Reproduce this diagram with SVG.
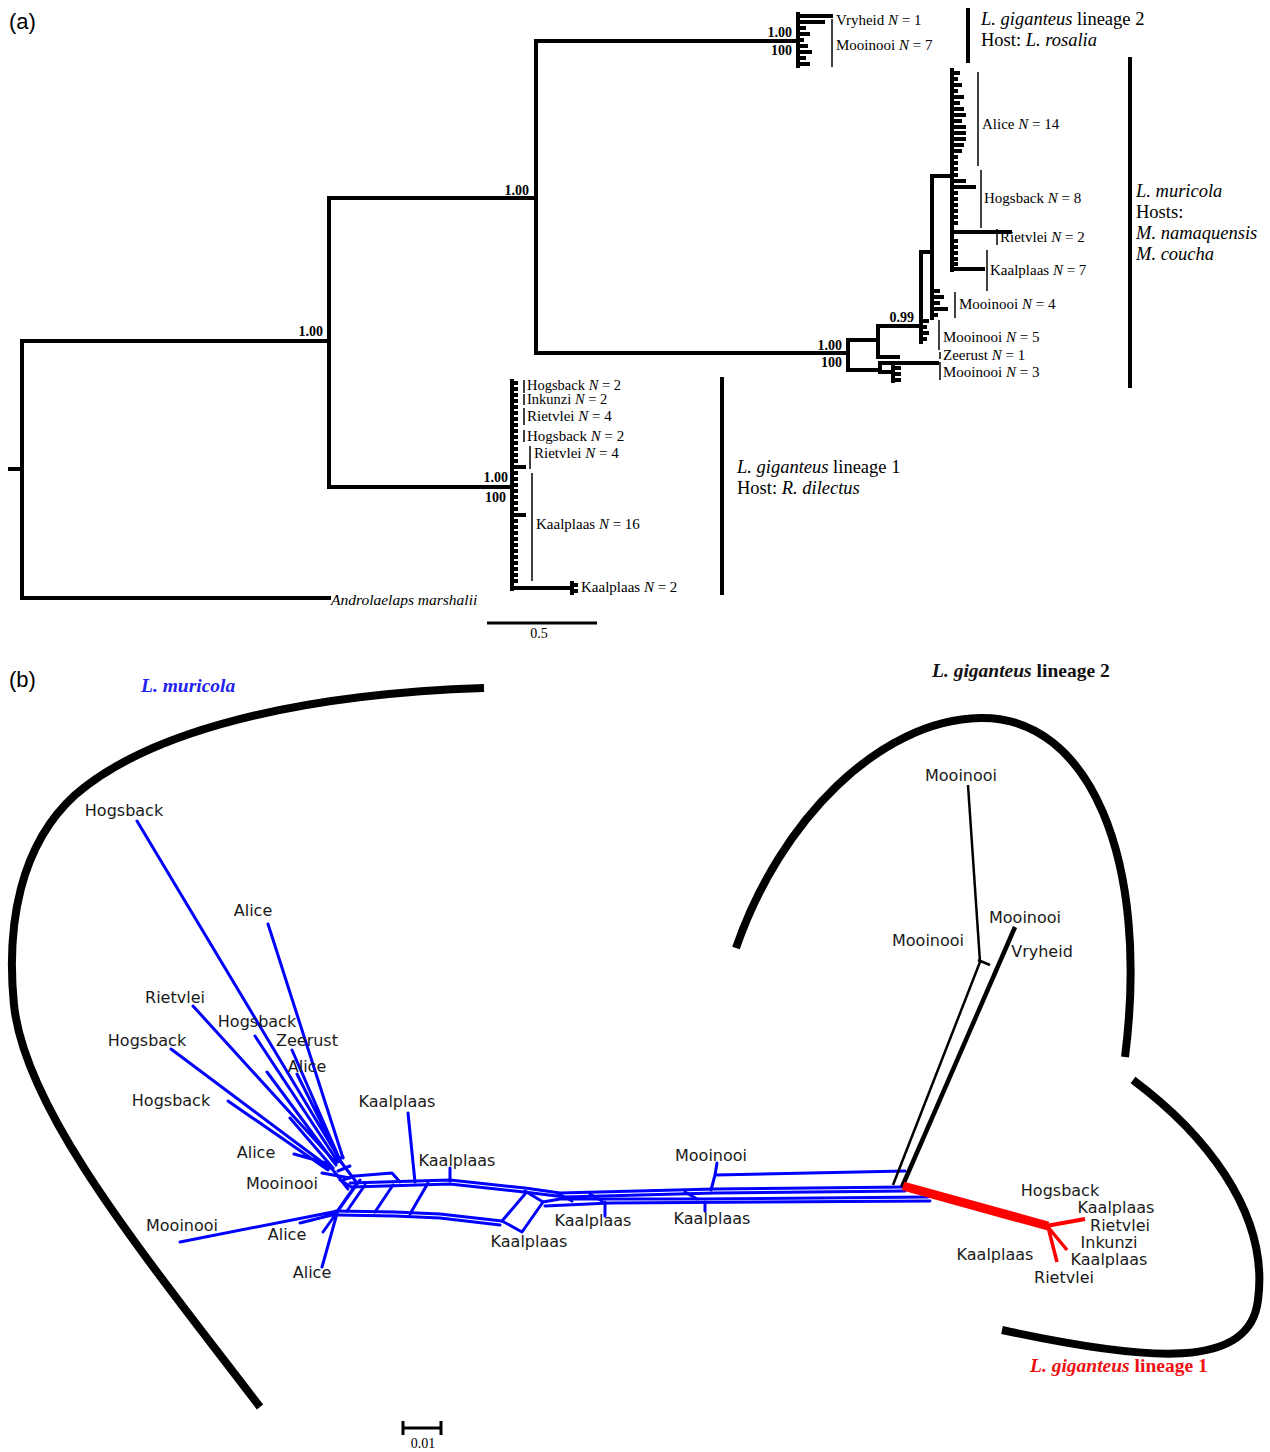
<svg xmlns="http://www.w3.org/2000/svg" width="1270" height="1452" viewBox="0 0 1270 1452">
<style>
.tr{fill:none;stroke:#000;stroke-width:4;stroke-linecap:square}
.tk{fill:none;stroke:#000;stroke-width:4}
.bar{stroke:#000;stroke-width:1.5}
.bigbar{stroke:#000;stroke-width:4}
.lab{font-family:"Liberation Serif","Times New Roman",serif;font-size:15px;fill:#000}
.sup{font-family:"Liberation Serif","Times New Roman",serif;font-size:14px;font-weight:bold;fill:#000}
.grp{font-family:"Liberation Serif","Times New Roman",serif;font-size:18.5px;fill:#000}
.i{font-style:italic}
.net{fill:none;stroke:#0000ff;stroke-width:3;stroke-linecap:round;stroke-linejoin:round}
.nl{font-family:"DejaVu Sans",Verdana,sans-serif;font-size:16px;fill:#1a1a1a;text-anchor:middle}
.arc{fill:none;stroke:#000;stroke-width:8}
.pl{font-family:"Liberation Sans",Arial,sans-serif;font-size:22px;fill:#000}
.ttl{font-family:"Liberation Serif","Times New Roman",serif;font-size:19.5px;font-weight:bold}
</style>

<text class="pl" x="9" y="29">(a)</text>
<text class="pl" x="9" y="687">(b)</text>

<g id="tree-a">
  <path class="tr" d="M10,469 H22 M22,341 V598 M22,341 H329 M22,598 H329 M329,198 V487 M329,198 H536 M329,487 H512 M536,41 V353 M536,41 H798 M536,353 H848 M798,14 V66 M848,340 V370 M848,340 H878 M878,326 V357 M878,326 H921 M878,357 H898 M921,252 V342 M921,252 H932 M932,176 V318 M932,176 H952 M952,70 V270 M952,269 H983 M848,370 H880 M880,363 V372 M880,363 H937 M880,372 H893 M893,367 V381 M512,381 V589 M512,588 H572 M572,583 V593"/>
  <path class="tk" d="M798,16 H833 M798,22 H825 M798,28 H806 M798,34 H810 M798,40 H804 M798,46 H808 M798,52 H812 M798,58 H806 M798,64 H810"/>
  <path class="tk" d="M952,73 H960 M952,79 H958 M952,85 H962 M952,91 H958 M952,97 H964 M952,103 H960 M952,109 H964 M952,115 H966 M952,121 H962 M952,127 H966 M952,133 H966 M952,139 H966 M952,145 H964 M952,151 H962 M952,157 H958 M952,163 H958 M952,169 H958 M952,175 H958 M952,181 H966 M952,187 H976 M952,193 H958 M952,199 H958 M952,205 H958 M952,211 H958 M952,217 H958 M952,223 H958 M952,232 H1012 M952,241 H958 M952,247 H958 M952,253 H958 M952,259 H958 M952,264 H958"/>
  <path class="tk" d="M932,291 H940 M932,297 H944 M932,303 H940 M932,309 H948 M932,315 H938 M921,321 H929 M921,327 H927 M921,333 H929 M921,339 H927 M893,368 H901 M893,374 H901 M893,380 H901"/>
  <path class="tk" d="M512,383 H518 M512,389 H518 M512,395 H518 M512,401 H518 M512,407 H518 M512,413 H518 M512,419 H518 M512,425 H518 M512,431 H518 M512,437 H518 M512,443 H518 M512,449 H518 M512,455 H518 M512,461 H518 M512,467 H526 M512,473 H518 M512,479 H518 M512,485 H518 M512,491 H518 M512,497 H518 M512,503 H518 M512,509 H518 M512,515 H526 M512,521 H518 M512,527 H518 M512,533 H518 M512,539 H518 M512,545 H518 M512,551 H518 M512,557 H518 M512,563 H518 M512,569 H518 M512,575 H518 M512,581 H518 M572,585 H578 M572,591 H578"/>
  <text class="sup" x="323" y="336" text-anchor="end">1.00</text>
  <text class="sup" x="529" y="195" text-anchor="end">1.00</text>
  <text class="sup" x="792" y="37" text-anchor="end">1.00</text>
  <text class="sup" x="792" y="55" text-anchor="end">100</text>
  <text class="sup" x="842" y="350" text-anchor="end">1.00</text>
  <text class="sup" x="842" y="367" text-anchor="end">100</text>
  <text class="sup" x="914" y="322" text-anchor="end">0.99</text>
  <text class="sup" x="508" y="482" text-anchor="end">1.00</text>
  <text class="sup" x="506" y="502" text-anchor="end">100</text>
</g>

<g id="labels-a">
  <line class="bar" x1="832" y1="19" x2="832" y2="67"/>
  <text class="lab" x="836" y="25">Vryheid <tspan class="i">N</tspan> = 1</text>
  <text class="lab" x="836" y="50">Mooinooi <tspan class="i">N</tspan> = 7</text>
  <line class="bar" x1="978" y1="72" x2="978" y2="166"/>
  <text class="lab" x="982" y="129">Alice <tspan class="i">N</tspan> = 14</text>
  <line class="bar" x1="981" y1="170" x2="981" y2="228"/>
  <text class="lab" x="984" y="203">Hogsback <tspan class="i">N</tspan> = 8</text>
  <line class="bar" x1="997" y1="229" x2="997" y2="245"/>
  <text class="lab" x="1000" y="242">Rietvlei <tspan class="i">N</tspan> = 2</text>
  <line class="bar" x1="987" y1="250" x2="987" y2="291"/>
  <text class="lab" x="990" y="275">Kaalplaas <tspan class="i">N</tspan> = 7</text>
  <line class="bar" x1="955" y1="292" x2="955" y2="318"/>
  <text class="lab" x="959" y="309">Mooinooi <tspan class="i">N</tspan> = 4</text>
  <line class="bar" x1="939" y1="320" x2="939" y2="350"/>
  <text class="lab" x="943" y="342">Mooinooi <tspan class="i">N</tspan> = 5</text>
  <line class="bar" x1="940" y1="352" x2="940" y2="359"/>
  <text class="lab" x="943" y="360">Zeerust <tspan class="i">N</tspan> = 1</text>
  <line class="bar" x1="940" y1="362" x2="940" y2="380"/>
  <text class="lab" x="943" y="377">Mooinooi <tspan class="i">N</tspan> = 3</text>

  <line class="bar" x1="524" y1="380" x2="524" y2="393"/>
  <text class="lab" x="527" y="390" style="font-size:14.5px">Hogsback <tspan class="i">N</tspan> = 2</text>
  <line class="bar" x1="524" y1="394" x2="524" y2="405"/>
  <text class="lab" x="527" y="404" style="font-size:14.5px">Inkunzi <tspan class="i">N</tspan> = 2</text>
  <line class="bar" x1="524" y1="408" x2="524" y2="425"/>
  <text class="lab" x="527" y="421">Rietvlei <tspan class="i">N</tspan> = 4</text>
  <line class="bar" x1="524" y1="430" x2="524" y2="442"/>
  <text class="lab" x="527" y="441">Hogsback <tspan class="i">N</tspan> = 2</text>
  <line class="bar" x1="530" y1="446" x2="530" y2="469"/>
  <text class="lab" x="534" y="458">Rietvlei <tspan class="i">N</tspan> = 4</text>
  <line class="bar" x1="532" y1="473" x2="532" y2="581"/>
  <text class="lab" x="536" y="529">Kaalplaas <tspan class="i">N</tspan> = 16</text>
  <text class="lab" x="581" y="592">Kaalplaas <tspan class="i">N</tspan> = 2</text>
  <text class="lab i" x="331" y="605" style="font-size:15.5px">Androlaelaps marshalii</text>

  <line class="bigbar" x1="968" y1="8" x2="968" y2="63"/>
  <text class="grp" x="981" y="25"><tspan class="i">L. giganteus</tspan> lineage 2</text>
  <text class="grp" x="981" y="46">Host: <tspan class="i">L. rosalia</tspan></text>
  <line class="bigbar" x1="1130" y1="57" x2="1130" y2="388"/>
  <text class="grp" x="1136" y="197"><tspan class="i">L. muricola</tspan></text>
  <text class="grp" x="1136" y="218">Hosts:</text>
  <text class="grp" x="1136" y="239"><tspan class="i">M. namaquensis</tspan></text>
  <text class="grp" x="1136" y="260"><tspan class="i">M. coucha</tspan></text>
  <line class="bigbar" x1="722" y1="377" x2="722" y2="595"/>
  <text class="grp" x="737" y="473"><tspan class="i">L. giganteus</tspan> lineage 1</text>
  <text class="grp" x="737" y="494">Host: <tspan class="i">R. dilectus</tspan></text>
  <line x1="487" y1="623" x2="597" y2="623" stroke="#000" stroke-width="3"/>
  <text class="lab" x="539" y="638" text-anchor="middle" style="font-size:14px">0.5</text>
</g>

<g id="arcs-b">
  <path class="arc" d="M484,688 C300,694 150,730 75,795 C20,845 6,925 14,1005 C25,1110 140,1250 260,1407"/>
  <path class="arc" d="M736,948 C780,820 880,720 980,718 C1090,716 1150,860 1125,1057"/>
  <path class="arc" d="M1133,1080 C1200,1130 1270,1210 1258,1300 C1250,1370 1150,1362 1002,1330"/>
</g>

<g id="titles-b">
  <text class="ttl" x="141" y="692" fill="#2222ee" font-style="italic">L. muricola</text>
  <text class="ttl" x="932" y="677" fill="#111"><tspan font-style="italic">L. giganteus</tspan> lineage 2</text>
  <text class="ttl" x="1030" y="1372" fill="#ee1111"><tspan font-style="italic">L. giganteus</tspan> lineage 1</text>
</g>

<g id="connectors">
  <g id="net-muricola" class="net">
    <path d="M137,821 L340,1160 M268,924 L343,1158 M193,1006 L336,1163 M255,1036 L338,1162 M171,1049 L330,1168 M292,1050 L340,1160 M297,1074 L341,1162 M267,1072 L336,1165 M228,1101 L328,1170 M290,1118 L333,1168 M294,1154 L326,1163 M322,1173 L350,1178"/>
    <path d="M338,1158 L357,1183 M329,1165 L348,1189 M333,1161 L343,1157 M338,1171 L350,1166 M343,1180 L354,1176 M340,1180 L353,1188"/>
    <path d="M180,1242 L338,1211 M300,1223 L336,1214 M322,1267 L338,1210 L357,1183 M323,1232 L360,1180"/>
    <path d="M355,1176 L392,1173 L400,1182"/>
    <path d="M350,1183 L450,1180 L525,1188 L560,1193 L715,1189 L905,1187"/>
    <path d="M352,1187 L450,1184 L524,1192 L565,1197 L715,1193 L905,1191"/>
    <path d="M336,1211 L395,1212 L440,1214 L502,1221"/>
    <path d="M338,1215 L395,1216 L440,1218 L500,1225"/>
    <path d="M543,1202 L560,1199 L700,1199 L928,1197"/>
    <path d="M545,1206 L610,1203 L930,1201"/>
    <path d="M365,1185 L347,1211 M393,1185 L375,1212 M428,1183 L410,1214"/>
    <path d="M502,1221 L525,1194 M502,1221 L522,1232 L543,1202 L525,1191"/>
    <path d="M557,1193 L572,1201 M590,1194 L602,1201 M685,1192 L697,1199"/>
    <path d="M717,1163 L715,1175 L905,1171 M715,1175 L711,1190"/>
    <path d="M408,1113 L415,1182 M450,1168 L450,1181 M605,1202 L605,1216 M705,1202 L705,1211"/>
  </g>
  <g id="net-lineage2" fill="none" stroke="#000">
    <path d="M968,785 L980,962" stroke-width="2.5"/>
    <path d="M980,962 L893,1185 M978,960 L990,965" stroke-width="2.5"/>
    <path d="M1015,927 L902,1187" stroke-width="4.5"/>
  </g>
  <g id="net-lineage1" fill="none" stroke="#ff0000">
    <path d="M903,1186 L1048,1226" stroke-width="9"/>
    <path d="M1046,1226 L1085,1219" stroke-width="4"/>
    <path d="M1048,1227 L1067,1250 M1048,1227 L1057,1262" stroke-width="3.5"/>
  </g>
</g>

<g id="labels-b">
  <text class="nl" x="124" y="816">Hogsback</text>
  <text class="nl" x="253" y="916">Alice</text>
  <text class="nl" x="175" y="1003">Rietvlei</text>
  <text class="nl" x="257" y="1027">Hogsback</text>
  <text class="nl" x="307" y="1046">Zeerust</text>
  <text class="nl" x="147" y="1046">Hogsback</text>
  <text class="nl" x="307" y="1072">Alice</text>
  <text class="nl" x="171" y="1106">Hogsback</text>
  <text class="nl" x="397" y="1107">Kaalplaas</text>
  <text class="nl" x="256" y="1158">Alice</text>
  <text class="nl" x="457" y="1166">Kaalplaas</text>
  <text class="nl" x="282" y="1189">Mooinooi</text>
  <text class="nl" x="182" y="1231">Mooinooi</text>
  <text class="nl" x="287" y="1240">Alice</text>
  <text class="nl" x="312" y="1278">Alice</text>
  <text class="nl" x="529" y="1247">Kaalplaas</text>
  <text class="nl" x="593" y="1226">Kaalplaas</text>
  <text class="nl" x="711" y="1161">Mooinooi</text>
  <text class="nl" x="712" y="1224">Kaalplaas</text>
  <text class="nl" x="961" y="781">Mooinooi</text>
  <text class="nl" x="1025" y="923">Mooinooi</text>
  <text class="nl" x="928" y="946">Mooinooi</text>
  <text class="nl" x="1042" y="957">Vryheid</text>
  <text class="nl" x="1060" y="1196">Hogsback</text>
  <text class="nl" x="1116" y="1213">Kaalplaas</text>
  <text class="nl" x="1120" y="1231">Rietvlei</text>
  <text class="nl" x="1109" y="1248">Inkunzi</text>
  <text class="nl" x="1109" y="1265">Kaalplaas</text>
  <text class="nl" x="1064" y="1283">Rietvlei</text>
  <text class="nl" x="995" y="1260">Kaalplaas</text>
  <path d="M403,1428 H441 M403,1421 V1435 M441,1421 V1435" stroke="#000" stroke-width="3" fill="none"/>
  <text class="lab" x="423" y="1448" text-anchor="middle" style="font-size:14px">0.01</text>
</g>
</svg>
